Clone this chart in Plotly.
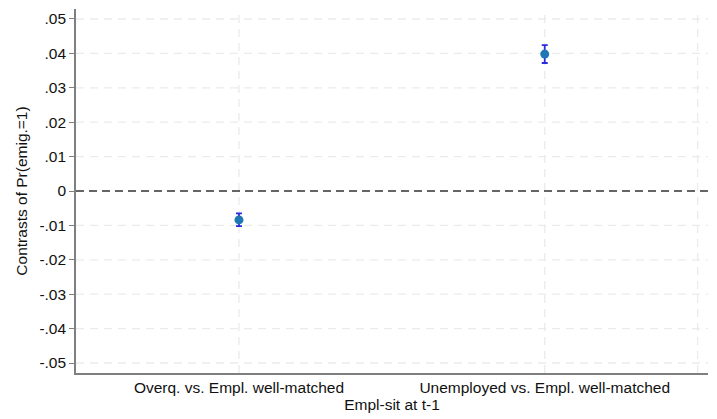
import plotly.graph_objects as go

# Contrasts of Pr(emig.=1) by employment situation at t-1
categories = ["Overq. vs. Empl. well-matched", "Unemployed vs. Empl. well-matched"]
cat_pos = [1, 2]
estimates = [-0.0084, 0.0398]
ci_low = [-0.0102, 0.0372]
ci_high = [-0.0065, 0.0424]

y_ticks = [-0.05, -0.04, -0.03, -0.02, -0.01, 0, 0.01, 0.02, 0.03, 0.04, 0.05]
y_tick_labels = ["-.05", "-.04", "-.03", "-.02", "-.01", "0", ".01", ".02", ".03", ".04", ".05"]

fig = go.Figure()

# light dashed grid (drawn as shapes so they can be dashed)
for v in y_ticks:
    if v == 0:
        continue
    fig.add_shape(type="line", xref="paper", yref="y", x0=0, x1=1, y0=v, y1=v,
                  line=dict(color="#ebebeb", width=1.3, dash="8px,6px"), layer="below")
for xv in [1, 2, 2.5]:
    fig.add_shape(type="line", xref="x", yref="paper", x0=xv, x1=xv, y0=0, y1=1,
                  line=dict(color="#ebebeb", width=1.3, dash="8px,6px"), layer="below")

# reference line at zero
fig.add_shape(type="line", xref="paper", yref="y", x0=0, x1=1, y0=0, y1=0,
              line=dict(color="#333333", width=1.5, dash="8px,5px"))

fig.add_trace(go.Scatter(
    x=cat_pos, y=estimates, mode="markers",
    marker=dict(color="#1f77b4", size=9),
    error_y=dict(type="data", symmetric=False,
                 array=[h - e for h, e in zip(ci_high, estimates)],
                 arrayminus=[e - l for e, l in zip(estimates, ci_low)],
                 color="#2a2ae0", thickness=1.8, width=3),
    showlegend=False, cliponaxis=False,
))

fig.update_layout(
    width=717, height=419,
    margin=dict(l=76, r=9, t=9, b=46),
    paper_bgcolor="white", plot_bgcolor="white",
    font=dict(family="Liberation Sans, Arial, sans-serif", size=15, color="#111111"),
    xaxis=dict(
        range=[0.467, 2.534], tickvals=cat_pos, ticktext=categories,
        showgrid=False, zeroline=False, showline=True, linecolor="#7f7f7f", linewidth=1.6,
        ticks="", tickfont=dict(size=15.5),
        title=dict(text="Empl-sit at t-1", font=dict(size=15.5), standoff=2),
    ),
    yaxis=dict(
        range=[-0.0529, 0.0529], tickvals=y_ticks, ticktext=y_tick_labels,
        showgrid=False, zeroline=False, showline=True, linecolor="#7f7f7f", linewidth=1.6,
        ticks="outside", ticklen=5, tickcolor="#7f7f7f", tickwidth=1.2,
        tickfont=dict(size=15.5),
        title=dict(text="Contrasts of Pr(emig.=1)", font=dict(size=15.5), standoff=8),
    ),
)

fig.write_html("out.html")
